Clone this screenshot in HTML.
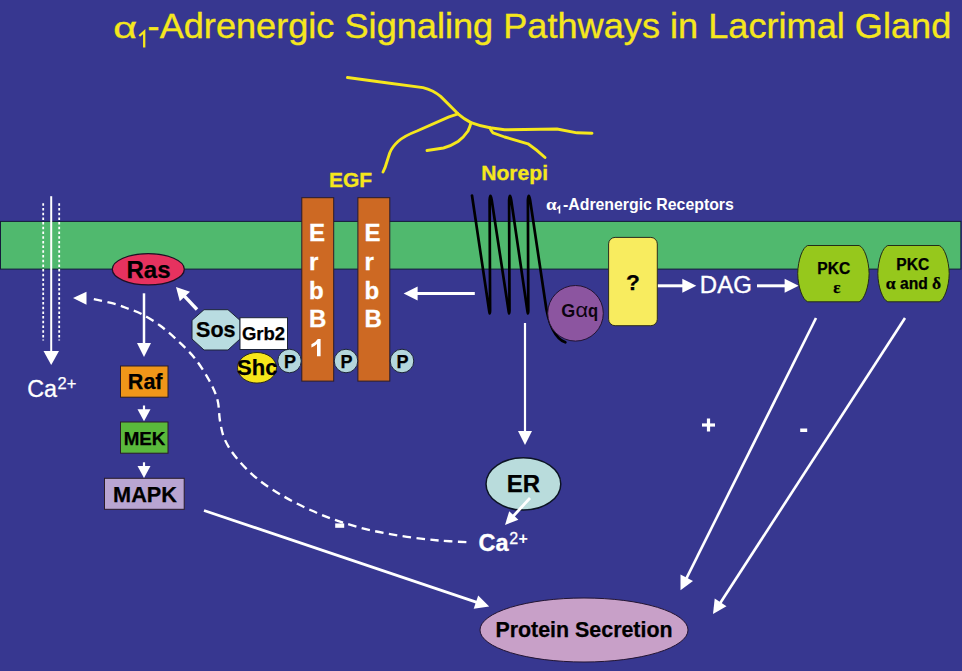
<!DOCTYPE html>
<html>
<head>
<meta charset="utf-8">
<title>Adrenergic Signaling Pathways in Lacrimal Gland</title>
<style>
html,body{margin:0;padding:0;background:#373790;}
body{width:962px;height:671px;overflow:hidden;font-family:"Liberation Sans",sans-serif;}
svg{display:block;}
text{font-family:"Liberation Sans",sans-serif;}
.b{font-weight:bold;}
.k{font-weight:bold;fill:#000000;stroke:#000000;stroke-width:0.25px;}
.w{font-weight:bold;fill:#ffffff;stroke:#ffffff;stroke-width:0.3px;}
.sy{font-family:"Liberation Serif",serif;}
</style>
</head>
<body>
<svg width="962" height="671" viewBox="0 0 962 671">
<rect x="0" y="0" width="962" height="671" fill="#373790"/>
<g fill="#f5e71d" stroke="#f5e71d" stroke-width="0.35">
<text transform="translate(113.3,37.8) scale(1.42,1)" font-size="29">α</text>
<path d="M139.3,36 L144.2,31.6 L144.2,47.5" fill="none" stroke="#f5e71d" stroke-width="2.3"/>
<text transform="translate(147.6,37.9) scale(1.0245,1)" font-size="35.3">-Adrenergic Signaling Pathways in Lacrimal Gland</text>
</g>
<rect x="0.5" y="221.4" width="960.4" height="47.7" fill="#50b96e" stroke="#151a3a" stroke-width="1"/>
<g fill="none" stroke="#f5e71d" stroke-width="2.9" stroke-linecap="round" stroke-linejoin="round">
<path d="M347.5,77.5 L388,83 L423,87.6 Q433,90 440.6,96.4 L458,113.8 Q464,119 471,122.6 Q480,126 490,127.8 L504.6,129.8 L557,129 L577,132.8 L592,133.3"/>
<path d="M458,113.8 L449,116.8 L417,131 Q404,136 398,141.5 Q392,147 389.7,153 L385,167.7 L383,172"/>
<path d="M471,122.6 Q470,127 468,131 Q464,137 458,141.5 Q451,146 443.5,148 L427,150.5"/>
<path d="M490,127.8 Q491,131 493,132.8 L504.6,137 L528,143.8 Q537,150 545,157.5"/>
</g>
<text x="329" y="186.5" class="b" font-size="21" fill="#f5e71d" stroke="#f5e71d" stroke-width="0.3">EGF</text>
<text x="481.2" y="180" class="b" font-size="21.1" fill="#f5e71d" stroke="#f5e71d" stroke-width="0.3">Norepi</text>
<g class="b" fill="#ffffff">
<text transform="translate(546,210.2) scale(1.15,1)" class="sy" font-size="16.5">α</text>
<path d="M557.2,208.6 L559.5,206.6 L559.5,213.4" fill="none" stroke="#ffffff" stroke-width="1.6"/>
<text x="563" y="210.2" font-size="15.85">-Adrenergic Receptors</text>
</g>
<g stroke="#ffffff" fill="none">
<line x1="43.2" y1="203.3" x2="43.2" y2="340.5" stroke-width="1.8" stroke-dasharray="2.5,2.2"/>
<line x1="59.2" y1="203.3" x2="59.2" y2="340.5" stroke-width="1.8" stroke-dasharray="2.5,2.2"/>
</g>
<line x1="51.2" y1="196.2" x2="51.2" y2="352" stroke="#ffffff" stroke-width="2"/>
<polygon points="51.2,365 43.5,351 59,351" fill="#ffffff"/>
<text x="27.2" y="396.5" font-size="23.3" fill="#ffffff" stroke="#ffffff" stroke-width="0.3">Ca</text>
<text x="57.5" y="389.4" font-size="16.5" fill="#ffffff" stroke="#ffffff" stroke-width="0.25">2+</text>
<rect x="301.8" y="197.7" width="31.9" height="183.4" fill="#cd6923" stroke="#2a1c28" stroke-width="1"/>
<rect x="357.9" y="197.7" width="31.9" height="183.4" fill="#cd6923" stroke="#2a1c28" stroke-width="1"/>
<g class="w" font-size="24" stroke-width="0.1">
<text x="309" y="241">E</text>
<text x="309" y="269.8">r</text>
<text x="309" y="298.6">b</text>
<text x="309" y="327.4">B</text>
<path d="M320.6,356.2 h-3.6 v-12.2 q-2.4,2.3 -5.6,3.4 v-3.1 q4.2,-1.7 6.4,-5.3 h2.8 z" stroke="none"/>
<text x="364.4" y="241">E</text>
<text x="364.4" y="269.8">r</text>
<text x="364.4" y="298.6">b</text>
<text x="364.4" y="327.4">B</text>
</g>
<g fill="#b4d7dc" stroke="#1c2438" stroke-width="1">
<circle cx="289.5" cy="361" r="11.8"/>
<circle cx="346" cy="361" r="11.8"/>
<circle cx="402" cy="361" r="11.8"/>
</g>
<g class="k" font-size="18" text-anchor="middle">
<text x="290" y="367.6">P</text>
<text x="346.5" y="367.6">P</text>
<text x="402.5" y="367.6">P</text>
</g>
<ellipse cx="148.3" cy="269.3" rx="36" ry="15.6" fill="#e6325f" stroke="#1e1024" stroke-width="1.3"/>
<text x="148.5" y="277.6" class="k" font-size="24" text-anchor="middle">Ras</text>
<polygon points="204,309.7 228,309.7 240,320.3 240,339 228,350 204,350 192,339 192,320.3" fill="#b9dce1" stroke="#1c2438" stroke-width="1"/>
<text x="215.8" y="337" class="k" font-size="21.5" text-anchor="middle">Sos</text>
<rect x="240" y="317.7" width="47.5" height="31.8" fill="#ffffff" stroke="#1c2438" stroke-width="1"/>
<text x="263.5" y="340" class="k" font-size="18.5" text-anchor="middle">Grb2</text>
<ellipse cx="257" cy="367.8" rx="19.5" ry="15.3" fill="#f7e61a" stroke="#2c2c1c" stroke-width="1"/>
<text x="257.3" y="375" class="k" font-size="22" text-anchor="middle">Shc</text>
<rect x="120.5" y="366" width="47.5" height="31.2" fill="#f09619" stroke="#2a1c28" stroke-width="1"/>
<text x="145.2" y="388.7" class="k" font-size="21.5" text-anchor="middle">Raf</text>
<rect x="120.5" y="422" width="47.5" height="31.2" fill="#5ab93c" stroke="#2a1c28" stroke-width="1"/>
<text x="144.5" y="444.6" class="k" font-size="18.8" text-anchor="middle">MEK</text>
<rect x="104.5" y="478.3" width="79.7" height="31" fill="#b9a5d2" stroke="#2a1c28" stroke-width="1"/>
<text x="145" y="501.7" class="k" font-size="21.7" text-anchor="middle">MAPK</text>
<line x1="144" y1="293.3" x2="144" y2="344" stroke="#ffffff" stroke-width="2.5"/>
<polygon points="144,357 137,343 151,343" fill="#ffffff"/>
<line x1="144" y1="405.5" x2="144" y2="410.3" stroke="#ffffff" stroke-width="2.2"/>
<polygon points="144,421.3 137.5,409.3 150.5,409.3" fill="#ffffff"/>
<line x1="144" y1="462.3" x2="144" y2="467" stroke="#ffffff" stroke-width="2.2"/>
<polygon points="144,478 137.5,466 150.5,466" fill="#ffffff"/>
<line x1="525" y1="323" x2="525" y2="432" stroke="#ffffff" stroke-width="2.2"/>
<polygon points="525,445 518,431 532,431" fill="#ffffff"/>
<line x1="474.8" y1="293.6" x2="416.6" y2="293.6" stroke="#ffffff" stroke-width="3"/>
<polygon points="403.6,293.6 417.6,286.6 417.6,300.6" fill="#ffffff"/>
<line x1="657" y1="285.8" x2="683.3" y2="285.8" stroke="#ffffff" stroke-width="3"/>
<polygon points="696.3,285.8 682.3,292.8 682.3,278.8" fill="#ffffff"/>
<line x1="757" y1="285.8" x2="785.6" y2="285.8" stroke="#ffffff" stroke-width="3"/>
<polygon points="798.6,285.8 784.6,292.8 784.6,278.8" fill="#ffffff"/>
<line x1="197" y1="309.5" x2="184.2" y2="295.8" stroke="#ffffff" stroke-width="3.4"/>
<polygon points="176,287 190,291.7 179.8,301.3" fill="#ffffff"/>
<line x1="204" y1="510.5" x2="476.9" y2="602.4" stroke="#ffffff" stroke-width="2.8"/>
<polygon points="489.2,606.5 473.7,608.7 478.2,595.4" fill="#ffffff"/>
<line x1="816" y1="318" x2="686.3" y2="578.7" stroke="#ffffff" stroke-width="2.6"/>
<polygon points="680.5,590.3 680.5,574.6 693,580.9" fill="#ffffff"/>
<line x1="905" y1="318" x2="720.1" y2="603.2" stroke="#ffffff" stroke-width="2.6"/>
<polygon points="713,614.1 714.7,598.5 726.5,606.2" fill="#ffffff"/>
<path d="M93.8,299.2 C97.4,300 109.8,302.5 115.6,304.1 C121.4,305.7 124.2,307.2 128.6,308.9 C133,310.6 136.9,311.5 142.1,314.3 C147.3,317.1 154.1,321.1 160,325.5 C165.9,329.9 171.7,335 177.5,340.5 C183.3,346 189.8,351.9 195,358.5 C200.2,365.1 205.2,373.1 209,380 C212.8,386.9 215.7,393.2 217.5,400 C219.3,406.8 218.8,414.3 220,421 C221.2,427.7 222.2,433.8 225,440 C227.8,446.2 231.7,452.1 237,458.5 C242.3,464.9 249.3,472.2 257,478.5 C264.7,484.8 274,490.7 283,496 C292,501.3 301.5,506 311,510.3 C320.5,514.6 329.7,518.2 340,521.6 C350.3,525 361.8,528.3 373,530.8 C384.2,533.3 395.8,535.2 407,536.8 C418.2,538.4 429.5,539.7 440,540.6 C450.5,541.5 465,542 470,542.3" fill="none" stroke="#ffffff" stroke-width="2.35" stroke-dasharray="8.5,5.4"/>
<polygon points="73,297.9 86.5,291.8 86.5,304.8" fill="#ffffff"/>
<rect x="335.2" y="523.4" width="9" height="4.4" fill="#ffffff"/>
<path d="M472,195.5 L489.2,311 Q489.8,316 490.1,311 L489.6,200 Q490.3,191.5 491.7,200 L508.6,311 Q509.2,316 509.5,311 L509.1,200 Q509.8,191.5 511.2,200 L527.4,311 Q528,316 528.3,311 L527.9,200 Q528.6,191.5 530.1,200 L545,300 C548,325 556,339 565.3,342.3" fill="none" stroke="#000000" stroke-width="2.7" stroke-linejoin="round" stroke-linecap="round"/>
<circle cx="575.5" cy="313.3" r="27.8" fill="#8c55a0" stroke="#221432" stroke-width="1"/>
<g fill="#0c0410" font-size="18">
<text x="561.2" y="316.5" class="b">G</text>
<text transform="translate(575.6,316.5) scale(1.12,1)" font-size="19.5">α</text>
<text transform="translate(587.9,316.5) scale(0.92,1)" class="b">q</text>
</g>
<rect x="608.6" y="237.4" width="48.7" height="88.3" rx="6.5" ry="6.5" fill="#f8ec5f" stroke="#2c2c1c" stroke-width="1"/>
<text x="633" y="289.8" class="k" font-size="22.7" text-anchor="middle">?</text>
<text x="699.8" y="293.3" font-size="24" fill="#ffffff" stroke="#ffffff" stroke-width="0.35">DAG</text>
<path d="M807.7,245.5 H859.1 C864.1,247 868.9,260 869.1,273.6 C868.9,287 864.1,300 859.1,301.8 H807.7 C802.7,300 797.9,287 797.7,273.6 C797.9,260 802.7,247 807.7,245.5 Z" fill="#96c81c" stroke="#242c18" stroke-width="1"/>
<path d="M887.8,245.5 H939.2 C944.2,247 949,260 949.2,273.6 C949,287 944.2,300 939.2,301.8 H887.8 C882.8,300 878,287 877.8,273.6 C878,260 882.8,247 887.8,245.5 Z" fill="#96c81c" stroke="#242c18" stroke-width="1"/>
<g class="k" font-size="15.6" text-anchor="middle">
<text x="833.8" y="273.6">PKC</text>
<text x="836.8" y="293" class="sy k" font-size="17">ε</text>
<text x="912.8" y="269.8">PKC</text>
<text x="913.5" y="289"><tspan class="sy" font-size="17.5">α</tspan> and <tspan class="sy" font-size="17.5">δ</tspan></text>
</g>
<ellipse cx="523.4" cy="483.9" rx="37.4" ry="26.2" fill="#b9dcdc" stroke="#0c1424" stroke-width="1.5"/>
<text x="523.5" y="491.6" class="k" font-size="24" text-anchor="middle">ER</text>
<line x1="530" y1="498" x2="513.2" y2="516.2" stroke="#ffffff" stroke-width="2.8"/>
<polygon points="505,525 509.2,511.2 518.4,519.7" fill="#ffffff"/>
<text x="478.6" y="550.6" class="w" font-size="23.5">Ca</text>
<text x="509.3" y="544" font-size="16" fill="#ffffff" stroke="#ffffff" stroke-width="0.3">2</text>
<text x="518.6" y="543.6" font-size="16" class="b" fill="#ffffff">+</text>
<rect x="702" y="423.4" width="13" height="3.2" fill="#ffffff"/><rect x="706.9" y="418.5" width="3.2" height="13" fill="#ffffff"/>
<rect x="800.2" y="428.5" width="7" height="3.5" fill="#ffffff"/>
<ellipse cx="584" cy="630" rx="104" ry="32" fill="#c8a0c8" stroke="#221432" stroke-width="1"/>
<text x="584" y="637.2" class="k" font-size="21.4" text-anchor="middle">Protein Secretion</text>
</svg>
</body>
</html>
